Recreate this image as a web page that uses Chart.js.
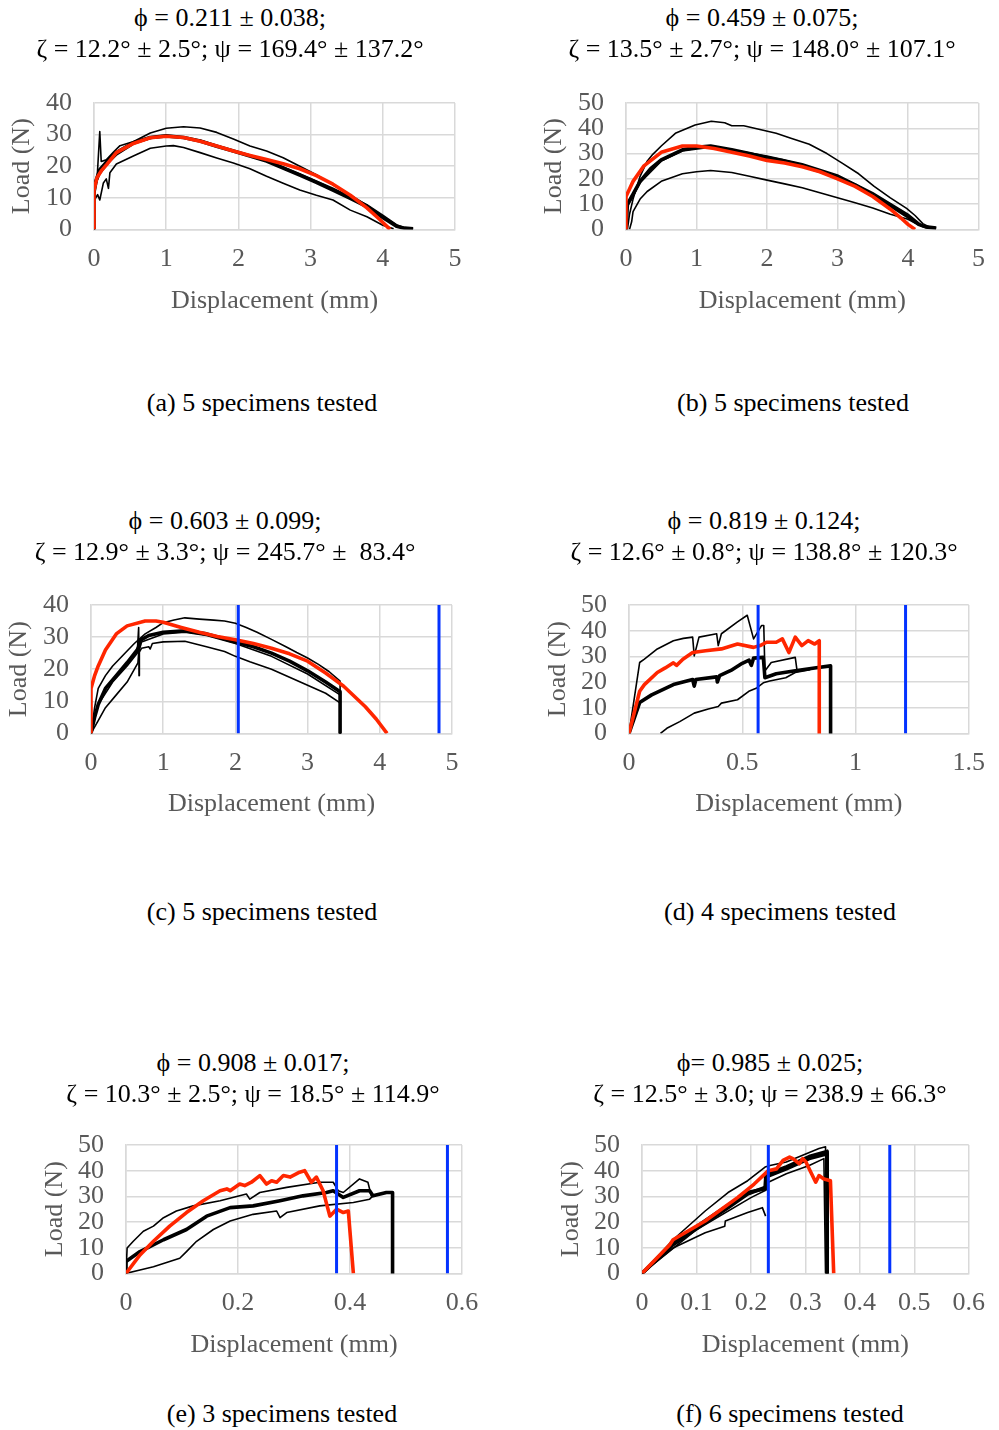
<!DOCTYPE html>
<html>
<head>
<meta charset="utf-8">
<script src="https://cdn.jsdelivr.net/npm/chart.js@4.4.1/dist/chart.umd.min.js"></script>
<style>
  html, body { margin: 0; padding: 0; background: #fff; }
  body { width: 999px; height: 1430px; position: relative; overflow: hidden; font-family: "Liberation Serif", serif; }
  .t { position: absolute; transform: translateX(-50%); white-space: pre; font-size: 26px; line-height: 31px; color: #000; }
  canvas { position: absolute; }
</style>
</head>
<body>
<script>
// ---------------- DATA ----------------
// Panel (a)
const a_upper = [[0,0],[0,10],[0.04,15],[0.08,31],[0.1,21.5],[0.17,22],[0.27,24.5],[0.36,26.5],[0.55,27.8],[0.78,30.5],[1.0,32],[1.24,32.5],[1.47,32.1],[1.7,30.7],[1.93,28.6],[2.16,26.4],[2.39,24.8],[2.62,22.7],[2.85,20],[3.08,17.3],[3.31,14.1],[3.55,10.9],[3.78,7.7],[4.0,4],[4.19,1.3],[4.3,0.4],[4.42,0.2]];
const a_thick = [[0,0],[0,13.6],[0.08,18.9],[0.2,22],[0.31,24.3],[0.55,27.5],[0.78,29.1],[1.0,29.6],[1.24,29.1],[1.47,28],[1.7,26.3],[1.93,24.8],[2.16,23.2],[2.39,21.6],[2.62,19.4],[2.85,17.2],[3.08,14.9],[3.31,12.4],[3.55,9.8],[3.78,7.2],[4.0,3.8],[4.19,1],[4.3,0.4],[4.42,0.2]];
const a_mid = [[0,0],[0,13],[0.08,17.5],[0.2,21],[0.31,23.5],[0.55,27],[0.78,28.8],[1.0,29.4],[1.24,29],[1.47,28.2],[1.93,25],[2.39,22],[2.85,17.6],[3.31,13],[3.78,7.8],[4.0,4.5],[4.19,1.5],[4.3,0.5]];
const a_lower = [[0,0],[0,9],[0.05,11],[0.08,9.3],[0.13,14.7],[0.17,16],[0.2,13],[0.22,17.9],[0.31,20.7],[0.545,23.2],[0.78,25.7],[1.0,26.4],[1.1,26.5],[1.24,25.9],[1.47,24.3],[1.7,22.6],[1.93,21],[2.16,19.2],[2.39,16.8],[2.62,14.6],[2.85,12.5],[3.08,10.8],[3.31,9.3],[3.55,6.1],[3.78,4],[4.0,1.3],[4.15,0.2]];
const a_red = [[0,0],[0,12.3],[0.04,16.3],[0.1,18.5],[0.175,20.5],[0.31,24.3],[0.545,27.2],[0.78,29],[1.0,29.5],[1.24,29.1],[1.47,27.9],[1.7,26.4],[1.93,24.8],[2.16,23.4],[2.39,22.1],[2.62,20.8],[2.85,19.2],[3.08,17],[3.31,14.3],[3.55,10.8],[3.78,6.8],[3.95,3.3],[4.1,0]];

// Panel (b)
const b_upper = [[0.02,0],[0.05,6],[0.1,12],[0.2,21],[0.3,27],[0.38,29.7],[0.5,33],[0.7,38],[0.98,41.3],[1.21,42.8],[1.4,42.2],[1.5,41],[1.67,41],[1.9,39.5],[2.13,38],[2.35,36],[2.6,33.7],[2.85,30],[3.06,26.3],[3.3,22],[3.52,17],[3.75,12.5],[3.98,8.3],[4.1,5.5],[4.21,2.3],[4.3,1],[4.4,0.5]];
const b_thick = [[0,0],[0.02,10],[0.1,14],[0.2,19],[0.35,24],[0.5,27.5],[0.8,31.5],[1.0,32.5],[1.2,33],[1.5,31.5],[1.75,30],[2.0,28.3],[2.25,27],[2.5,25.2],[2.75,23],[3.0,20.6],[3.25,17.5],[3.5,13.5],[3.75,9.5],[4.0,5],[4.15,2],[4.25,1],[4.4,0.5]];
const b_mid = [[0,0],[0.02,9],[0.1,13],[0.2,18.5],[0.5,27],[0.8,31],[1.2,32.5],[1.5,31.5],[2.0,29],[2.5,26],[3.0,21.5],[3.5,14.5],[4.0,6],[4.2,1.5],[4.35,0.5]];
const b_lower = [[0.05,0],[0.08,3],[0.1,7],[0.2,12],[0.3,15],[0.5,19],[0.8,22],[1.0,22.8],[1.2,23.3],[1.5,22.5],[1.75,21],[2.0,19.5],[2.25,18],[2.5,16.5],[2.75,14.5],[3.0,12.5],[3.25,10.5],[3.5,8.5],[3.75,6],[4.0,4],[4.1,2.5],[4.2,1.2],[4.3,0.5]];
const b_red = [[0,0],[0,13],[0.05,16],[0.1,19],[0.25,25],[0.5,30.5],[0.8,33],[1.0,33],[1.25,32],[1.5,30.5],[1.75,29],[2.0,27.3],[2.25,26.3],[2.5,24.8],[2.75,22.8],[3.0,20],[3.25,17],[3.5,13],[3.75,8],[3.9,4.5],[4.0,2],[4.1,0]];

// Panel (c)
const c_upper = [[0,0],[0.05,8],[0.1,14],[0.2,18],[0.3,21],[0.45,24.5],[0.6,28],[0.75,31],[0.9,33],[1.0,34.5],[1.15,35.3],[1.3,36],[1.5,35.6],[1.7,35.3],[1.85,35],[2.0,34.3],[2.15,33],[2.3,31.5],[2.5,29.3],[2.7,27],[2.85,25.2],[3.0,23.5],[3.15,21.5],[3.3,19.2],[3.45,16.3],[3.45,0]];
const c_thick = [[0,0],[0.05,5],[0.1,9],[0.2,14],[0.35,18],[0.5,22],[0.64,26],[0.67,27.5],[0.68,29],[0.8,30.5],[1.0,31.5],[1.3,32],[1.6,31],[2.0,28.5],[2.25,27],[2.5,25],[2.75,22.5],[3.0,19.5],[3.25,16],[3.45,13],[3.45,0]];
const c_mid = [[0,0],[0.1,9],[0.3,16],[0.5,21],[0.64,25],[0.66,33],[0.665,18],[0.67,26],[0.7,28.5],[1.0,31],[1.3,31.5],[1.6,30.5],[2.0,28],[2.5,24],[3.0,18.5],[3.45,12],[3.45,0]];
const c_lower = [[0,0],[0.1,4],[0.2,8],[0.35,12],[0.5,16],[0.65,22],[0.66,25],[0.7,26.5],[0.8,27],[0.82,26.3],[0.85,28],[1.0,28.5],[1.3,28.7],[1.6,27],[1.85,25.5],[2.0,24],[2.2,22.3],[2.5,20],[2.75,17.5],[3.0,15],[3.25,12.5],[3.45,9.5],[3.45,0]];
const c_red = [[0,0],[0,14],[0.05,18],[0.1,21],[0.2,26],[0.35,31],[0.5,33.5],[0.75,35],[0.9,35],[1.0,34.6],[1.25,33],[1.5,31.5],[1.75,30.2],[2.0,29.2],[2.25,28],[2.5,26.5],[2.75,24.8],[3.0,22.5],[3.25,18.8],[3.5,14.7],[3.65,11.5],[3.8,8.3],[3.95,4.5],[4.1,0]];
const c_limits = [2.04, 4.82];

// Panel (d)
const d_upper = [[0,0],[0.047,27.6],[0.068,28.9],[0.125,32.9],[0.196,36.1],[0.24,37],[0.281,37.5],[0.288,30.2],[0.309,37.5],[0.387,38.8],[0.394,34.2],[0.408,38.8],[0.479,43.4],[0.522,46],[0.55,36.8],[0.585,42],[0.595,42],[0.6,24.3],[0.628,27.6],[0.734,29.6],[0.741,25]];
const d_thick = [[0,0],[0.047,12],[0.1,15],[0.196,19],[0.281,21],[0.288,18.4],[0.295,21],[0.387,22],[0.39,20],[0.4,22.5],[0.45,24.5],[0.5,27.3],[0.53,28.5],[0.54,26.5],[0.55,29.3],[0.593,29.6],[0.6,21.7],[0.65,23.2],[0.727,24.3],[0.827,25.6],[0.89,26.3],[0.89,0]];
const d_lower = [[0.139,0],[0.167,2],[0.224,4.6],[0.288,7.9],[0.35,9.5],[0.394,10.5],[0.408,11.8],[0.479,13.1],[0.529,16.4],[0.564,17.7],[0.593,19.7],[0.621,20.4],[0.692,21.7],[0.734,23.7],[0.8,24.8]];
const d_red = [[0,0],[0.047,16.4],[0.068,19],[0.125,23.7],[0.16,25.5],[0.196,27.5],[0.21,26.5],[0.238,28.9],[0.281,31.5],[0.338,32.2],[0.408,32.9],[0.479,34.8],[0.55,33.5],[0.579,34.2],[0.607,35.5],[0.65,35.5],[0.677,36.8],[0.706,31.5],[0.734,37.5],[0.763,34.2],[0.791,36.1],[0.82,34.8],[0.84,36.1],[0.84,0]];
const d_limits = [0.57, 1.221];

// Panel (e)
const e_upper = [[0,0],[0.002,9.9],[0.013,12.5],[0.031,16.4],[0.049,18.4],[0.067,21.7],[0.09,24.3],[0.12,26.3],[0.168,28.3],[0.215,30.9],[0.221,28.9],[0.239,31.5],[0.287,33.5],[0.346,35.5],[0.37,35.5],[0.379,32.2],[0.388,31.5],[0.417,36.8],[0.432,35.5],[0.438,30.2],[0.441,30.2]];
const e_thick = [[0,0],[0,4.6],[0.025,8.5],[0.067,13.1],[0.108,17.1],[0.144,22.3],[0.186,25.6],[0.227,26.3],[0.275,28.3],[0.316,30.2],[0.358,31.5],[0.37,32.2],[0.388,29.6],[0.417,32.2],[0.435,32.2],[0.441,30.2],[0.465,31.5],[0.476,31.5],[0.476,0]];
const e_lower = [[0,0],[0.025,1.3],[0.049,2.6],[0.078,4.6],[0.096,5.9],[0.108,8.5],[0.126,12.5],[0.156,17.1],[0.186,20.4],[0.227,23],[0.269,24.3],[0.275,21.7],[0.287,23.7],[0.346,26.3],[0.406,27.6],[0.435,28.9],[0.441,30.2]];
const e_red = [[0,0],[0.025,7.2],[0.049,12.5],[0.078,18.4],[0.108,23.7],[0.138,28.3],[0.168,32.2],[0.18,32.9],[0.186,32.2],[0.203,34.8],[0.212,34.2],[0.224,35.5],[0.239,38.1],[0.251,34.8],[0.26,36.1],[0.269,35.5],[0.281,38.1],[0.293,37.5],[0.31,39.4],[0.319,40],[0.331,35.5],[0.34,37.5],[0.352,32.2],[0.364,22.3],[0.376,25],[0.388,23.7],[0.397,24.3],[0.406,0]];
const e_limits = [0.376, 0.574];

// Panel (f)
const f_upper = [[0,0],[0.057,13.1],[0.116,24.3],[0.158,31.5],[0.194,36.1],[0.226,41.4],[0.235,42],[0.265,43.4],[0.295,46],[0.325,48.6],[0.337,49.3],[0.34,0]];
const f_thick = [[0,0],[0.057,11.2],[0.116,19.7],[0.158,25.6],[0.194,30.9],[0.226,33.5],[0.227,37.5],[0.265,40.7],[0.307,44.7],[0.34,46.6],[0.34,0]];
const f_mid = [[0,0],[0.057,11.8],[0.116,20.5],[0.158,26.5],[0.194,31.5],[0.226,33],[0.228,38.5],[0.265,41.5],[0.307,45.5],[0.34,47.5],[0.34,0]];
const f_lower = [[0,0],[0.057,9.9],[0.116,15.8],[0.152,18.4],[0.153,20.4],[0.194,23.7],[0.221,25.6],[0.227,22.3]];
const f_lower2 = [[0,0],[0.1,17],[0.2,29.5],[0.228,32.5],[0.232,35.5],[0.265,38.8],[0.307,42],[0.334,44.7],[0.337,0]];
const f_red = [[0,0],[0.051,11.2],[0.057,13.1],[0.116,20.4],[0.176,29.6],[0.206,34.8],[0.232,40],[0.247,40.7],[0.259,44],[0.271,45.3],[0.277,44.7],[0.289,42.7],[0.295,44.7],[0.301,43.4],[0.31,39.4],[0.319,35.5],[0.325,38.1],[0.334,36.8],[0.346,36.1],[0.352,0]];
const f_limits = [0.232, 0.455];

// Axis ranges and labels
const xMaxes = [5, 5, 5, 1.5, 0.6, 0.6];
const xSteps = [1, 1, 1, 0.5, 0.2, 0.1];
const yMaxes = [40, 50, 40, 50, 50, 50];
const yStep = 10;
const xTitle = "Displacement (mm)";
const yTitle = "Load (N)";
const titles1 = ["ϕ = 0.211 ± 0.038;", "ϕ = 0.459 ± 0.075;", "ϕ = 0.603 ± 0.099;", "ϕ = 0.819 ± 0.124;", "ϕ = 0.908 ± 0.017;", "ϕ= 0.985 ± 0.025;"];
const titles2 = ["ζ = 12.2° ± 2.5°; ψ = 169.4° ± 137.2°", "ζ = 13.5° ± 2.7°; ψ = 148.0° ± 107.1°", "ζ = 12.9° ± 3.3°; ψ = 245.7° ±  83.4°", "ζ = 12.6° ± 0.8°; ψ = 138.8° ± 120.3°", "ζ = 10.3° ± 2.5°; ψ = 18.5° ± 114.9°", "ζ = 12.5° ± 3.0; ψ = 238.9 ± 66.3°"];
const captions = ["(a) 5 specimens tested", "(b) 5 specimens tested", "(c) 5 specimens tested", "(d) 4 specimens tested", "(e) 3 specimens tested", "(f) 6 specimens tested"];

// ---------------- LAYOUT (positions only) ----------------
const layout = [
  {cl:0,   cw:500, L:94,  R:455, T:103,  B:228,  yT:22,  xT:300,  tx:230, t1:17,   cx:262, cy:402},
  {cl:500, cw:499, L:626, R:987, T:103,  B:228,  yT:554, xT:300,  tx:762, t1:17,   cx:793, cy:402},
  {cl:0,   cw:500, L:91,  R:452, T:605,  B:732,  yT:19,  xT:803,  tx:225, t1:520,  cx:262, cy:911},
  {cl:500, cw:499, L:629, R:982, T:605,  B:732,  yT:558, xT:803,  tx:764, t1:520,  cx:780, cy:911},
  {cl:0,   cw:500, L:126, R:462, T:1145, B:1272, yT:55,  xT:1344, tx:253, t1:1062, cx:282, cy:1413},
  {cl:500, cw:499, L:642, R:977, T:1145, B:1272, yT:571, xT:1344, tx:770, t1:1062, cx:790, cy:1413}
];

const STYLE = {
  thin:  {c:'#000000', w:1.6, o:3},
  thick: {c:'#000000', w:3.6, o:2},
  red:   {c:'#ff2600', w:3.6, o:1},
  blue:  {c:'#0433ff', w:3,   o:0}
};
function ds(arr, kind) {
  const s = STYLE[kind];
  return { data: arr.map(p => ({x:p[0], y:p[1]})), borderColor: s.c, borderWidth: s.w, order: s.o,
           pointRadius: 0, tension: 0, fill: false, borderJoinStyle: 'round', borderCapStyle: 'butt' };
}
function vline(x, ymax) { return ds([[x,0],[x,ymax]], 'blue'); }

const panels = [
  [ds(a_upper,'thin'), ds(a_mid,'thin'), ds(a_lower,'thin'), ds(a_thick,'thick'), ds(a_red,'red')],
  [ds(b_upper,'thin'), ds(b_mid,'thin'), ds(b_lower,'thin'), ds(b_thick,'thick'), ds(b_red,'red')],
  [ds(c_upper,'thin'), ds(c_mid,'thin'), ds(c_lower,'thin'), ds(c_thick,'thick'), ds(c_red,'red'), vline(c_limits[0],40), vline(c_limits[1],40)],
  [ds(d_upper,'thin'), ds(d_lower,'thin'), ds(d_thick,'thick'), ds(d_red,'red'), vline(d_limits[0],50), vline(d_limits[1],50)],
  [ds(e_upper,'thin'), ds(e_lower,'thin'), ds(e_thick,'thick'), ds(e_red,'red'), vline(e_limits[0],50), vline(e_limits[1],50)],
  [ds(f_upper,'thin'), ds(f_lower,'thin'), ds(f_lower2,'thin'), ds(f_mid,'thick'), ds(f_thick,'thick'), ds(f_red,'red'), vline(f_limits[0],50), vline(f_limits[1],50)]
];

const FONT = {family: "'Liberation Serif', 'Times New Roman', serif", size: 26, lineHeight: 1.2};
const HALF = 26 * 1.2 / 2;
const GRAY = '#595959';
const GRID = '#d9d9d9';
const fmt = v => String(Number(Number(v).toFixed(3)));

function addText(txt, cx, cy) {
  const d = document.createElement('div');
  d.className = 't';
  d.textContent = txt;
  d.style.left = cx + 'px';
  d.style.top = (cy - 15.5) + 'px';
  document.body.appendChild(d);
}

panels.forEach((datasets, i) => {
  const g = layout[i];
  const padTop = 40;
  const top = g.T - padTop;
  const height = Math.round(g.xT + HALF + 1 - top);
  const cv = document.createElement('canvas');
  cv.width = g.cw; cv.height = height;
  cv.style.left = g.cl + 'px'; cv.style.top = top + 'px';
  cv.style.width = g.cw + 'px'; cv.style.height = height + 'px';
  document.body.appendChild(cv);
  const yAxisLeft = g.yT - HALF;
  new Chart(cv.getContext('2d'), {
    type: 'line',
    data: { datasets },
    options: {
      responsive: false, animation: false, devicePixelRatio: 1,
      layout: { padding: { left: yAxisLeft - g.cl, top: padTop, right: g.cl + g.cw - g.R, bottom: 0 } },
      plugins: { legend: {display:false}, tooltip: {enabled:false}, title: {display:false} },
      scales: {
        x: {
          type: 'linear', min: 0, max: xMaxes[i],
          ticks: { stepSize: xSteps[i], color: GRAY, font: FONT, padding: 14, maxRotation: 0, autoSkip: false, callback: fmt },
          grid: { color: GRID, lineWidth: 1.5, drawTicks: false },
          border: { color: GRID, width: 1.5 },
          title: { display: true, text: xTitle, color: GRAY, font: FONT, padding: 0 },
          afterFit: s => { s.height = (g.xT + HALF) - g.B; }
        },
        y: {
          type: 'linear', min: 0, max: yMaxes[i],
          ticks: { stepSize: yStep, color: GRAY, font: FONT, padding: 22, autoSkip: false, callback: fmt },
          grid: { color: GRID, lineWidth: 1.5, drawTicks: false },
          border: { color: GRID, width: 1.5 },
          title: { display: true, text: yTitle, color: GRAY, font: FONT, padding: 0 },
          afterFit: s => { s.width = g.L - yAxisLeft; }
        }
      }
    }
  });
  addText(titles1[i], g.tx, g.t1);
  addText(titles2[i], g.tx, g.t1 + 31);
  addText(captions[i], g.cx, g.cy);
});
</script>
</body>
</html>
